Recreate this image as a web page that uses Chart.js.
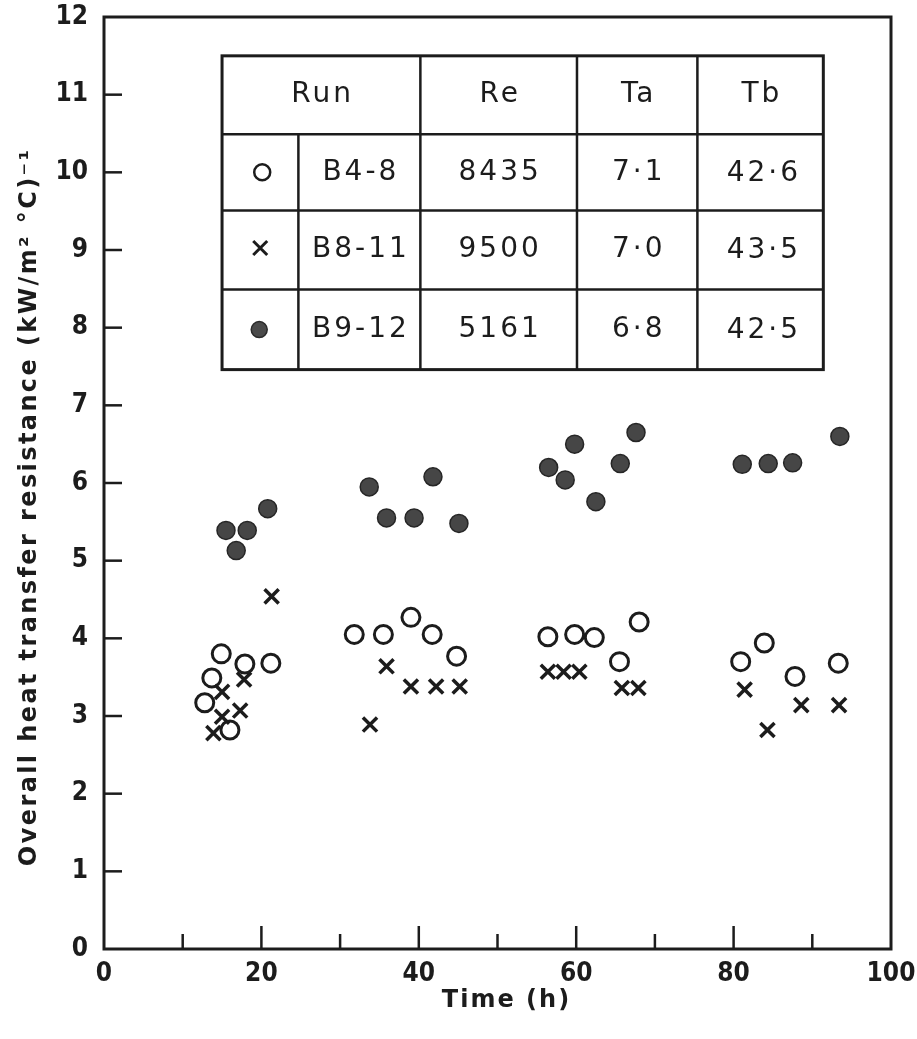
<!DOCTYPE html>
<html>
<head>
<meta charset="utf-8">
<title>Overall heat transfer resistance vs time</title>
<script src="https://cdn.jsdelivr.net/npm/chart.js@4.4.1/dist/chart.umd.min.js"></script>
<style>
  html, body { margin: 0; padding: 0; background: #fff; }
  #wrap { width: 917px; height: 1039px; position: relative; }
</style>
</head>
<body>
<div id="wrap"><canvas id="chart"></canvas></div>
<script>
// datos
const openX   = [12.8, 13.7, 14.9, 16.0, 17.9, 21.2, 31.8, 35.5, 39.0, 41.7, 44.8, 56.4, 59.8, 62.3, 65.5, 68.0, 80.9, 83.9, 87.8, 93.3];
const openY   = [3.17, 3.49, 3.80, 2.82, 3.67, 3.68, 4.05, 4.05, 4.27, 4.05, 3.77, 4.02, 4.05, 4.01, 3.70, 4.21, 3.70, 3.94, 3.51, 3.68];

const crossX  = [13.9, 15.0, 15.0, 17.3, 17.8, 21.3, 33.8, 35.9, 39.0, 42.2, 45.2, 56.4, 58.4, 60.4, 65.8, 67.9, 81.4, 84.3, 88.6, 93.4];
const crossY  = [2.78, 2.99, 3.31, 3.07, 3.47, 4.54, 2.89, 3.64, 3.38, 3.38, 3.38, 3.57, 3.57, 3.57, 3.36, 3.36, 3.34, 2.82, 3.14, 3.14];

const filledX = [15.5, 16.8, 18.2, 20.8, 33.7, 35.9, 39.4, 41.8, 45.1, 56.5, 58.6, 59.8, 62.5, 65.6, 67.6, 81.1, 84.4, 87.5, 93.5];
const filledY = [5.39, 5.13, 5.39, 5.67, 5.95, 5.55, 5.55, 6.08, 5.48, 6.20, 6.04, 6.50, 5.76, 6.25, 6.65, 6.24, 6.25, 6.26, 6.60];

// tabla de la leyenda
const tableHeader = ['Run', 'Re', 'Ta', 'Tb'];
const runNames  = ['B4-8', 'B8-11', 'B9-12'];
const reValues  = ['8435', '9500', '5161'];
const taValues  = ['7·1', '7·0', '6·8'];
const tbValues  = ['42·6', '43·5', '42·5'];

const xTitle = 'Time (h)';
const yTitle = 'Overall heat transfer resistance (kW/m² °C)⁻¹';

const ink = '#1c1c1c';
const condensed = "'DejaVu Sans Condensed', 'DejaVu Sans', sans-serif";
const wide = "'DejaVu Sans', sans-serif";

function toPoints(xs, ys) {
  return xs.map((v, i) => ({ x: v, y: ys[i] }));
}

// texto con espaciado, centrado sin el espacio final
function spacedText(ctx, text, x, y, spacing) {
  ctx.letterSpacing = spacing + 'px';
  ctx.fillText(text, x + spacing / 2, y);
  ctx.letterSpacing = '0px';
}

// marco, marcas hacia dentro y titulos de ejes
const frameAndTicks = {
  id: 'frameAndTicks',
  afterDraw(chart) {
    const { ctx, chartArea: a, scales } = chart;
    ctx.save();
    ctx.strokeStyle = ink;
    ctx.lineCap = 'butt';
    ctx.lineWidth = 3;
    ctx.strokeRect(a.left, a.top, a.right - a.left, a.bottom - a.top);
    ctx.lineWidth = 2.5;
    scales.y.ticks.forEach(t => {
      if (t.value <= 0 || t.value >= 12) return;
      const py = scales.y.getPixelForValue(t.value);
      ctx.beginPath();
      ctx.moveTo(a.left, py);
      ctx.lineTo(a.left + 18, py);
      ctx.stroke();
    });
    scales.x.ticks.forEach(t => {
      if (t.value <= 0 || t.value >= 100) return;
      const px = scales.x.getPixelForValue(t.value);
      const len = t.value % 20 === 0 ? 23 : 15;
      ctx.beginPath();
      ctx.moveTo(px, a.bottom);
      ctx.lineTo(px, a.bottom - len);
      ctx.stroke();
    });

    ctx.fillStyle = ink;
    ctx.textAlign = 'center';
    ctx.textBaseline = 'middle';
    ctx.font = 'bold 24px ' + wide;
    spacedText(ctx, xTitle, (a.left + a.right) / 2 + 8, 1001, 2);
    ctx.save();
    ctx.translate(30, (a.top + a.bottom) / 2 + 25);
    ctx.rotate(-Math.PI / 2);
    ctx.font = 'bold 24px ' + wide;
    spacedText(ctx, yTitle, 0, 0, 2.4);
    ctx.restore();
    ctx.restore();
  }
};

// tabla dibujada en coordenadas de datos
const legendTable = {
  id: 'legendTable',
  afterDraw(chart) {
    const { ctx, scales: { x, y } } = chart;
    const cols = [15.0, 24.7, 40.2, 60.1, 75.4, 91.4].map(v => x.getPixelForValue(v));
    const rows = [11.5, 10.49, 9.51, 8.49, 7.46].map(v => y.getPixelForValue(v));
    ctx.save();
    ctx.strokeStyle = ink;
    ctx.lineWidth = 3;
    ctx.strokeRect(cols[0], rows[0], cols[5] - cols[0], rows[4] - rows[0]);
    ctx.lineWidth = 2.5;
    rows.slice(1, 4).forEach(r => {
      ctx.beginPath(); ctx.moveTo(cols[0], r); ctx.lineTo(cols[5], r); ctx.stroke();
    });
    ctx.beginPath(); ctx.moveTo(cols[1], rows[1]); ctx.lineTo(cols[1], rows[4]); ctx.stroke();
    [2, 3, 4].forEach(c => {
      ctx.beginPath(); ctx.moveTo(cols[c], rows[0]); ctx.lineTo(cols[c], rows[4]); ctx.stroke();
    });

    ctx.fillStyle = ink;
    ctx.font = '28px ' + wide;
    ctx.textAlign = 'center';
    ctx.textBaseline = 'middle';
    const sp = 3;
    const midY = i => (rows[i] + rows[i + 1]) / 2;
    const midX = (c1, c2) => (cols[c1] + cols[c2]) / 2;
    spacedText(ctx, tableHeader[0], midX(0, 2), midY(0), sp);
    spacedText(ctx, tableHeader[1], midX(2, 3), midY(0), sp);
    spacedText(ctx, tableHeader[2], midX(3, 4), midY(0), sp);
    spacedText(ctx, tableHeader[3], midX(4, 5), midY(0), sp);
    for (let i = 0; i < 3; i++) {
      const ry = midY(i + 1);
      spacedText(ctx, runNames[i], midX(1, 2), ry, sp);
      spacedText(ctx, reValues[i], midX(2, 3), ry, sp);
      spacedText(ctx, taValues[i], midX(3, 4), ry, sp);
      spacedText(ctx, tbValues[i], midX(4, 5) + 2, ry + 1, sp);
    }

    // simbolos
    const sx = midX(0, 1);
    ctx.lineWidth = 2.5;
    ctx.beginPath(); ctx.arc(sx + 2, midY(1), 8, 0, Math.PI * 2); ctx.stroke();
    const cy = midY(2) - 2;
    ctx.lineWidth = 3;
    ctx.beginPath();
    ctx.moveTo(sx - 7, cy - 7); ctx.lineTo(sx + 7, cy + 7);
    ctx.moveTo(sx + 7, cy - 7); ctx.lineTo(sx - 7, cy + 7);
    ctx.stroke();
    ctx.fillStyle = '#4a4a4a';
    ctx.strokeStyle = '#2a2a2a';
    ctx.lineWidth = 1.5;
    ctx.beginPath(); ctx.arc(sx - 1, midY(3), 8, 0, Math.PI * 2); ctx.fill(); ctx.stroke();
    ctx.restore();
  }
};

document.addEventListener('DOMContentLoaded', function() {
  const canvas = document.getElementById('chart');
  canvas.width = 917;
  canvas.height = 1039;

  new Chart(canvas.getContext('2d'), {
    type: 'scatter',
    data: {
      datasets: [
        {
          label: 'B4-8',
          data: toPoints(openX, openY),
          pointStyle: 'circle',
          pointRadius: 9,
          pointBorderWidth: 3,
          pointBackgroundColor: 'rgba(255,255,255,0)',
          pointBorderColor: ink
        },
        {
          label: 'B8-11',
          data: toPoints(crossX, crossY),
          pointStyle: 'crossRot',
          pointRadius: 10,
          pointBorderWidth: 3.5,
          pointBorderColor: ink
        },
        {
          label: 'B9-12',
          data: toPoints(filledX, filledY),
          pointStyle: 'circle',
          pointRadius: 9,
          pointBorderWidth: 1.5,
          pointBackgroundColor: '#464646',
          pointBorderColor: '#262626'
        }
      ]
    },
    options: {
      responsive: false,
      animation: false,
      layout: { padding: { top: 17, right: 26, left: 0, bottom: 0 } },
      plugins: {
        legend: { display: false },
        tooltip: { enabled: false }
      },
      scales: {
        x: {
          type: 'linear',
          min: 0,
          max: 100,
          afterFit: s => { s.height = 90; s.paddingLeft = 0; s.paddingRight = 0; },
          grid: { display: false, drawTicks: false },
          border: { display: false },
          ticks: {
            stepSize: 10,
            padding: 10,
            color: ink,
            font: { family: condensed, size: 26, weight: 'bold' },
            callback: v => (v % 20 === 0 ? String(v) : '')
          },
          title: { display: false }
        },
        y: {
          type: 'linear',
          min: 0,
          max: 12,
          afterFit: s => { s.width = 104; s.paddingTop = 0; s.paddingBottom = 0; },
          grid: { display: false, drawTicks: false },
          border: { display: false },
          ticks: {
            stepSize: 1,
            padding: 16,
            color: ink,
            font: { family: condensed, size: 26, weight: 'bold' }
          },
          title: { display: false }
        }
      }
    },
    plugins: [frameAndTicks, legendTable]
  });
});
</script>
</body>
</html>
